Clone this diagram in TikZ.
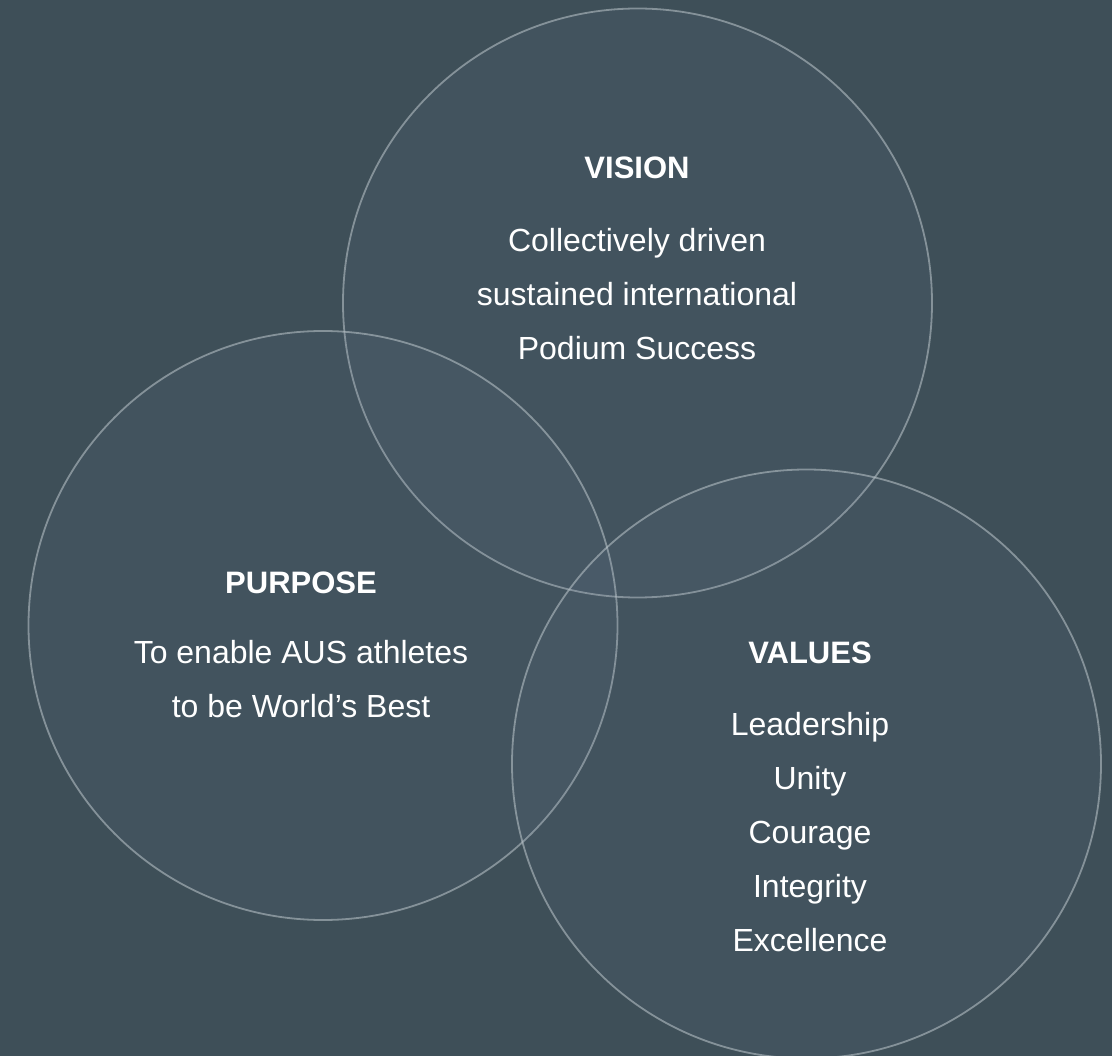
\documentclass[tikz,border=0pt]{standalone}
\usepackage{fontspec}
\setmainfont{Liberation Sans}
\definecolor{bgcol}{RGB}{62,79,88}
\definecolor{ringfill}{RGB}{120,135,165}
\definecolor{ringline}{RGB}{190,200,205}
\tikzset{
  ring/.style={circle, minimum size=589pt, inner sep=0pt, fill=ringfill, fill opacity=0.08,
    draw=ringline, draw opacity=0.55, line width=1.8pt},
  ttl/.style={anchor=base, text=white, font=\fontsize{31}{36}\selectfont\bfseries, inner sep=0pt},
  txt/.style={anchor=base, text=white, font=\fontsize{32}{36}\selectfont, inner sep=0pt}
}
\begin{document}
\begin{tikzpicture}[x=1pt,y=-1pt]
\fill[bgcol] (0,0) rectangle (1112,1056);
\useasboundingbox (0,0) rectangle (1112,1056);
\begin{scope}
\clip (0,0) rectangle (1112,1056);
\node[ring] (vision) at (637.5,303) {};
\node[ring] (purpose) at (323,625.5) {};
\node[ring] (values) at (806.5,764) {};
\end{scope}
% Vision
\node[ttl] (vt) at (637,179) {VISION};
\node[txt] (v1) at (637,252) {Collectively driven};
\node[txt] (v2) at (637,306) {sustained international};
\node[txt] (v3) at (637,360) {Podium Success};
% Purpose
\node[ttl] (pt) at (301,593) {PURPOSE};
\node[txt] (p1) at (301,663) {To enable AUS athletes};
\node[txt] (p2) at (301,717) {to be World’s Best};
% Values
\node[ttl] (at) at (810,663) {VALUES};
\node[txt] (a1) at (810,735) {Leadership};
\node[txt] (a2) at (810,789) {Unity};
\node[txt] (a3) at (810,843) {Courage};
\node[txt] (a4) at (810,897) {Integrity};
\node[txt] (a5) at (810,951) {Excellence};
\end{tikzpicture}
\end{document}
